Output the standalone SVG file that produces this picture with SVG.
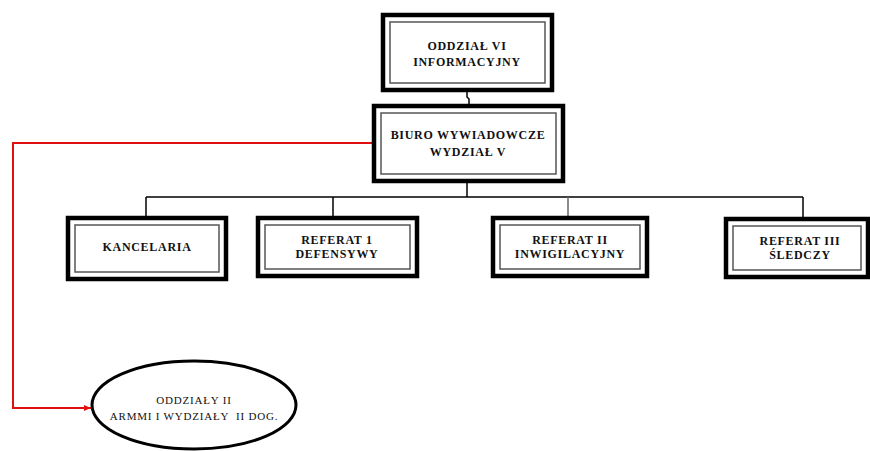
<svg xmlns="http://www.w3.org/2000/svg" width="870" height="451" viewBox="0 0 870 451">
<style>
.outer{fill:#fff;stroke:#000;stroke-width:4.5}
.inner{fill:none;stroke:#555;stroke-width:1.5}
.t{font-family:"Liberation Serif","Times New Roman",serif;font-weight:bold;font-size:12px;letter-spacing:0.7px;text-anchor:middle;fill:#111}
.e{font-family:"Liberation Serif","Times New Roman",serif;font-size:11px;letter-spacing:0.8px;text-anchor:middle;fill:#111;white-space:pre}
.c{fill:none;stroke:#000;stroke-width:1.5}
</style>
<defs>
<marker id="arr" markerWidth="8" markerHeight="8" refX="7" refY="4" orient="auto" markerUnits="userSpaceOnUse">
<path d="M0,1 L7,4 L0,7 Z" fill="#e01010"/>
</marker>
</defs>
<g id="connectors">
<path class="c" d="M467,92 V97 L469,99 V105"/>
<path class="c" d="M467,182 V197"/>
<path class="c" d="M146,197 H803"/>
<path class="c" d="M146,197 V217"/>
<path class="c" d="M333,197 V217"/>
<path d="M568,197 V217" fill="none" stroke="#666" stroke-width="1.5"/>
<path class="c" d="M803,197 V218"/>
<path d="M373,143 H13 V408 H91" fill="none" stroke="#e01010" stroke-width="2" marker-end="url(#arr)"/>
</g>
<g id="oddzial-vi">
<rect class="outer" x="383" y="15" width="169" height="75"/>
<rect class="inner" x="390" y="22" width="155" height="61"/>
<text class="t" x="467" y="50">ODDZIAŁ VI</text>
<text class="t" x="467" y="66">INFORMACYJNY</text>
</g>
<g id="biuro">
<rect class="outer" x="374" y="106" width="189" height="75"/>
<rect class="inner" x="381" y="113" width="175" height="61"/>
<text class="t" x="468" y="139">BIURO WYWIADOWCZE</text>
<text class="t" x="468" y="156">WYDZIAŁ V</text>
</g>
<g id="kancelaria">
<rect class="outer" x="68" y="218" width="158" height="61"/>
<rect class="inner" x="75" y="225" width="144" height="47"/>
<text class="t" x="147" y="251">KANCELARIA</text>
</g>
<g id="referat-1">
<rect class="outer" x="258" y="218" width="159" height="58"/>
<rect class="inner" x="265" y="225" width="145" height="44"/>
<text class="t" x="337" y="244">REFERAT 1</text>
<text class="t" x="337" y="258">DEFENSYWY</text>
</g>
<g id="referat-2">
<rect class="outer" x="493" y="218" width="154" height="58"/>
<rect class="inner" x="500" y="225" width="140" height="44"/>
<text class="t" x="570" y="244">REFERAT II</text>
<text class="t" x="570" y="258">INWIGILACYJNY</text>
</g>
<g id="referat-3">
<rect class="outer" x="726" y="219" width="142" height="58"/>
<rect class="inner" x="733" y="226" width="128" height="44"/>
<text class="t" x="800" y="245">REFERAT III</text>
<text class="t" x="800" y="259">ŚLEDCZY</text>
</g>
<g id="oddzialy-ii">
<ellipse cx="194" cy="405" rx="102" ry="44" fill="#fff" stroke="#000" stroke-width="3"/>
<text class="e" x="194" y="404">ODDZIAŁY II</text>
<text class="e" x="194" y="420">ARMMI I WYDZIAŁY  II DOG.</text>
</g>
</svg>
